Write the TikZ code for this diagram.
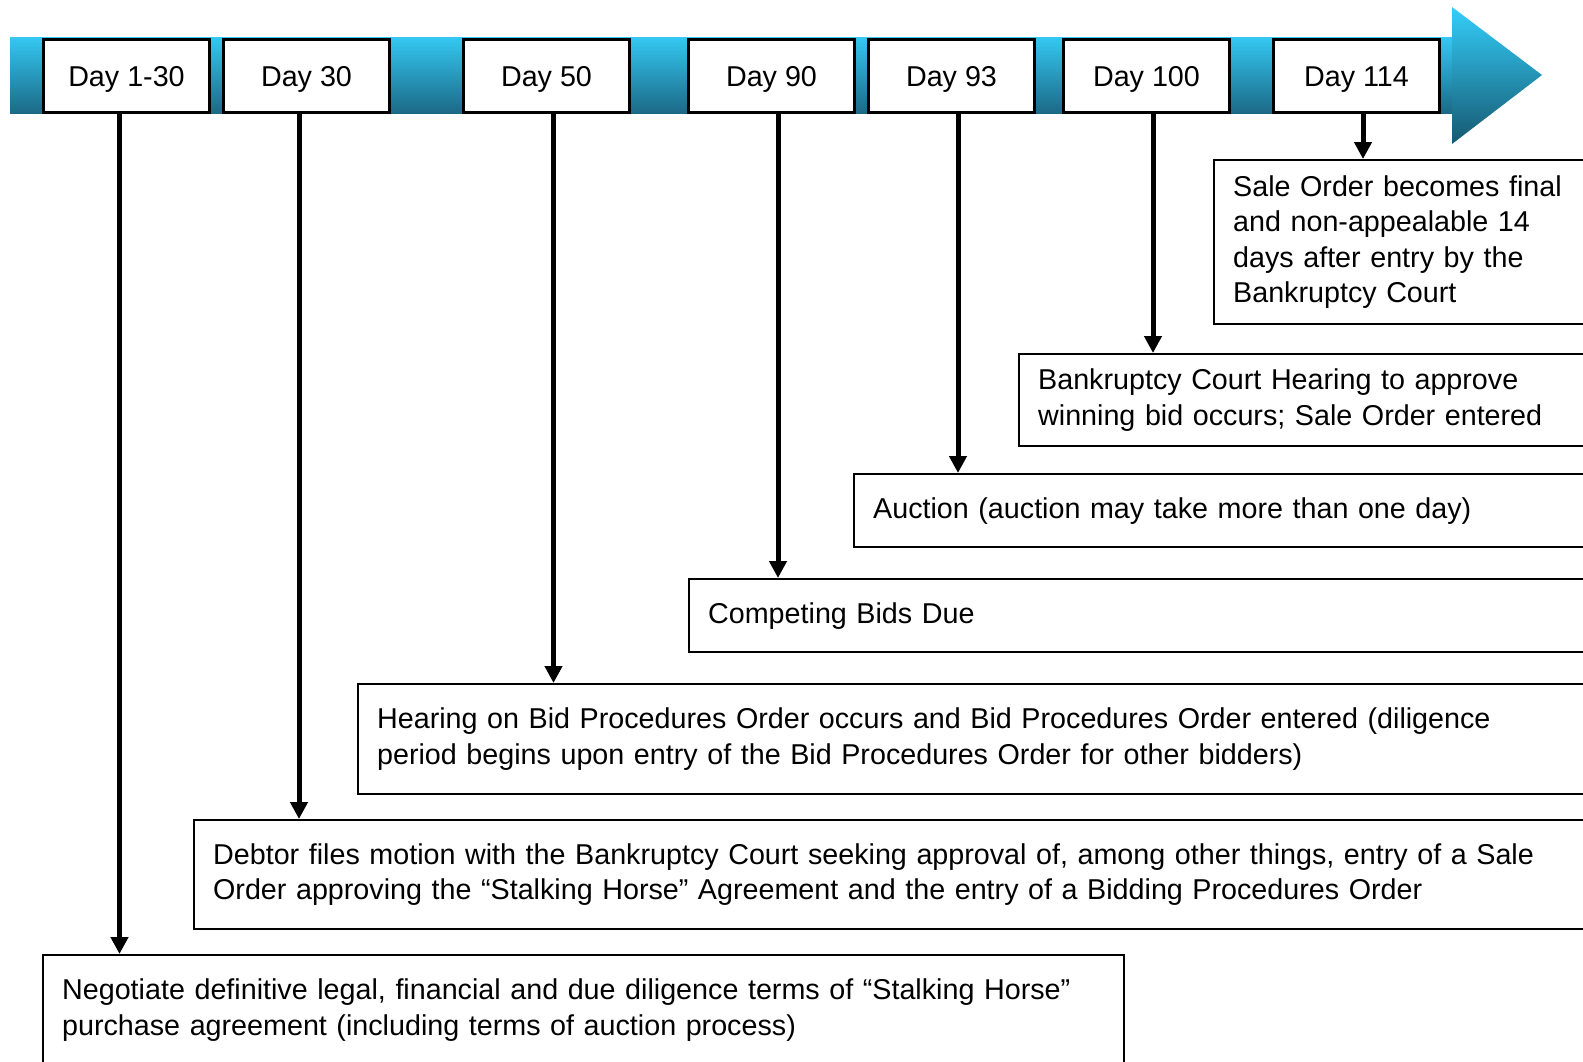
\documentclass[tikz,border=0pt]{standalone}
\usepackage{fontspec}
\setmainfont{Liberation Sans}
\usetikzlibrary{arrows.meta}
\definecolor{barTop}{RGB}{52,200,242}
\definecolor{barBot}{RGB}{28,105,135}
\definecolor{headTop}{RGB}{52,206,250}
\definecolor{headBot}{RGB}{22,88,112}
\newcommand\evfont{\fontsize{28.7}{35.5}\selectfont}
\tikzset{
  daybox/.style={draw, fill=white, line width=3pt, inner sep=0pt,
    minimum width=166pt, minimum height=73pt, anchor=north west,
    text height=20.6pt, text depth=0pt, font=\evfont},
  evbox/.style={draw, fill=white, line width=2.3pt, anchor=north west,
    inner xsep=19pt, inner ysep=0pt, align=left, font=\evfont},
  conn/.style={line width=5pt, -{Triangle[width=17pt,length=17pt]}}
}
\begin{document}
\begin{tikzpicture}[x=1pt,y=-1pt]
\clip (0,0) rectangle (1583,1061);
\fill[white] (0,0) rectangle (1583,1061);

% timeline bar and arrow head
\shade[top color=barTop, bottom color=barBot] (10,37) rectangle (1453,113);
\shade[top color=headTop, bottom color=headBot] (1452,7) -- (1542,75) -- (1452,144) -- cycle;

% day markers
\node[daybox] (d1) at (42,38)   {Day 1-30};
\node[daybox] (d2) at (222,38)  {Day 30};
\node[daybox] (d3) at (462,38)  {Day 50};
\node[daybox] (d4) at (687,38)  {Day 90};
\node[daybox] (d5) at (867,38)  {Day 93};
\node[daybox] (d6) at (1062,38) {Day 100};
\node[daybox] (d7) at (1272,38) {Day 114};

% events
\node[evbox, text width=1620pt-1213pt-38pt, minimum height=164pt] (e1) at (1213,159)
  {Sale Order becomes final\\and non-appealable 14\\days after entry by the\\Bankruptcy Court};
\node[evbox, text width=1620pt-1018pt-38pt, minimum height=92pt] (e2) at (1018,353)
  {Bankruptcy Court Hearing to approve\\winning bid occurs; Sale Order entered};
\node[evbox, text width=1620pt-853pt-38pt, minimum height=73pt] (e3) at (853,473)
  {Auction (auction may take more than one day)};
\node[evbox, text width=1620pt-688pt-38pt, minimum height=73pt] (e4) at (688,578)
  {Competing Bids Due};
\node[evbox, text width=1620pt-357pt-38pt, minimum height=110pt] (e5) at (357,683)
  {Hearing on Bid Procedures Order occurs and Bid Procedures Order entered (diligence\\period begins upon entry of the Bid Procedures Order for other bidders)};
\node[evbox, text width=1620pt-193pt-38pt, minimum height=109pt] (e6) at (193,819)
  {Debtor files motion with the Bankruptcy Court seeking approval of, among other things, entry of a Sale\\Order approving the “Stalking Horse” Agreement and the entry of a Bidding Procedures Order};
\node[evbox, text width=1081pt-38pt, minimum height=110pt] (e7) at (42,954)
  {Negotiate definitive legal, financial and due diligence terms of “Stalking Horse”\\purchase agreement (including terms of auction process)};

% connectors
\draw[conn] ([xshift=-7pt]d1.south) -- ([xshift=-7pt]d1.south |- e7.north);
\draw[conn] ([xshift=-7.5pt]d2.south) -- ([xshift=-7.5pt]d2.south |- e6.north);
\draw[conn] ([xshift=7pt]d3.south) -- ([xshift=7pt]d3.south |- e5.north);
\draw[conn] ([xshift=6.5pt]d4.south) -- ([xshift=6.5pt]d4.south |- e4.north);
\draw[conn] ([xshift=6.5pt]d5.south) -- ([xshift=6.5pt]d5.south |- e3.north);
\draw[conn] ([xshift=6.5pt]d6.south) -- ([xshift=6.5pt]d6.south |- e2.north);
\draw[conn] ([xshift=6.5pt]d7.south) -- ([xshift=6.5pt]d7.south |- e1.north);
\end{tikzpicture}
\end{document}
